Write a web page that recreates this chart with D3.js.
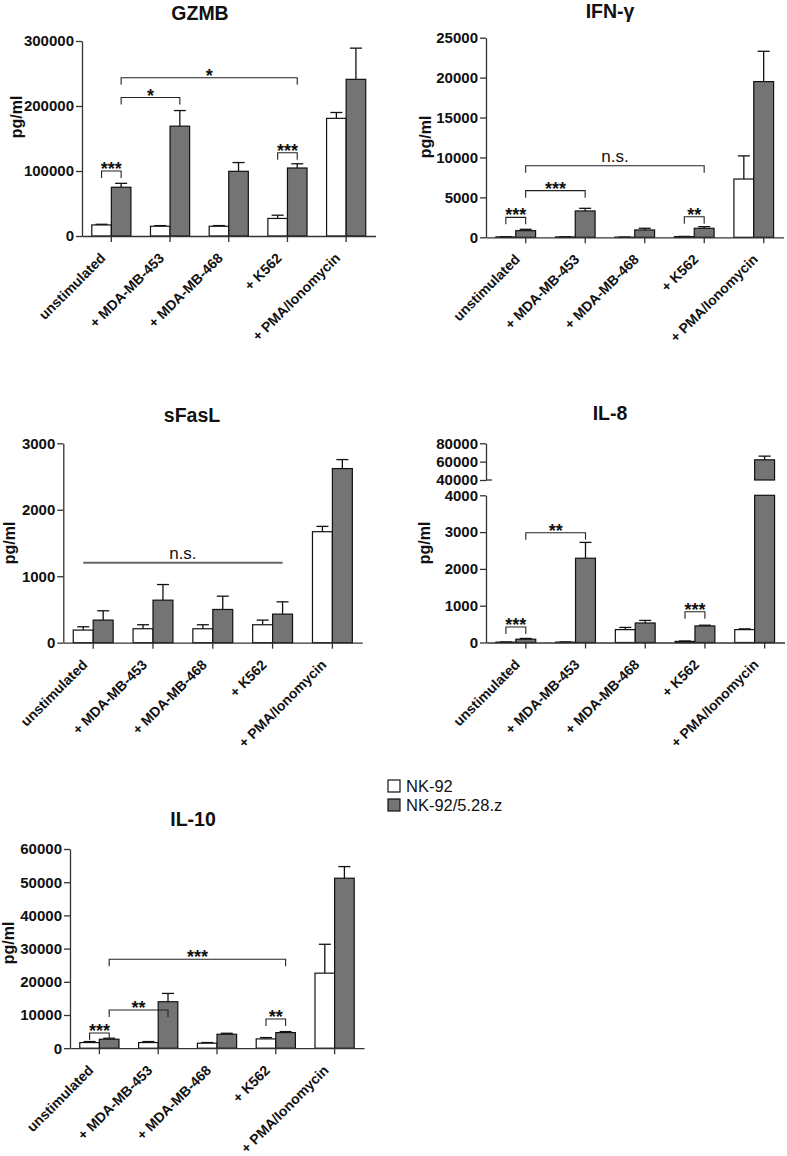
<!DOCTYPE html>
<html>
<head>
<meta charset="utf-8">
<script src="https://cdn.jsdelivr.net/npm/d3@7"></script>
<style>
  body { margin: 0; background: #fff; }
  svg text { font-family: Arial, "Liberation Sans", sans-serif; fill: #111; }
</style>
</head>
<body>
<svg id="fig" width="787" height="1156"></svg>
<script>
// ////////////////////////////////////////////////////////////////////////////
// DATA
// ////////////////////////////////////////////////////////////////////////////
const categories = ['unstimulated', '+ MDA-MB-453', '+ MDA-MB-468', '+ K562', '+ PMA/Ionomycin'];
const series = ['NK-92', 'NK-92/5.28.z'];

// GZMB (pg/ml)
const gzmbNK = [17000, 15000, 15000, 27000, 181000];
const gzmbNKErr = [1000, 1000, 1000, 5000, 9000];
const gzmbCAR = [75000, 169000, 99500, 104600, 241000];
const gzmbCARErr = [6000, 24000, 13500, 6500, 48000];
const gzmbTicks = [0, 100000, 200000, 300000];

// IFN-gamma
const ifnNK = [50, 50, 20, 80, 7300];
const ifnNKErr = [30, 20, 10, 30, 2900];
const ifnCAR = [830, 3300, 920, 1130, 19500];
const ifnCARErr = [170, 330, 210, 200, 3800];
const ifnTicks = [0, 5000, 10000, 15000, 20000, 25000];

// sFasL
const fasNK = [190, 210, 210, 270, 1670];
const fasNKErr = [50, 60, 60, 70, 80];
const fasCAR = [340, 640, 500, 430, 2620];
const fasCARErr = [140, 235, 200, 185, 135];
const fasTicks = [0, 1000, 2000, 3000];

// IL-8 (broken axis)
const il8NK = [10, 10, 350, 30, 350];
const il8NKErr = [5, 5, 60, 10, 20];
const il8CAR = [90, 2290, 530, 450, 62000];
const il8CARErr = [20, 430, 70, 20, 4000];
const il8TicksLow = [0, 1000, 2000, 3000, 4000];
const il8TicksHigh = [40000, 60000, 80000];

// IL-10
const il10NK = [1700, 1700, 1500, 2800, 22600];
const il10NKErr = [300, 300, 200, 400, 8700];
const il10CAR = [2700, 14000, 4200, 4700, 51200];
const il10CARErr = [300, 2500, 300, 300, 3500];
const il10Ticks = [0, 10000, 20000, 30000, 40000, 50000, 60000];

// significance brackets: [group, series] -> [group, series], level in pg/ml
const gzmbSig = [
  { from: [0, 0], to: [0, 1], level: 100000, label: '***' },
  { from: [0, 1], to: [1, 1], level: 213000, label: '*' },
  { from: [0, 1], to: [3, 1], level: 243500, label: '*' },
  { from: [3, 0], to: [3, 1], level: 128000, label: '***' },
];
const ifnSig = [
  { from: [0, 0], to: [0, 1], level: 2500, label: '***' },
  { from: [0, 1], to: [1, 1], level: 5840, label: '***' },
  { from: [0, 1], to: [3, 1], level: 8970, label: 'n.s.' },
  { from: [3, 0], to: [3, 1], level: 2580, label: '**' },
];
const fasSig = [
  { from: [0, 0], to: [3, 1], level: 1203, label: 'n.s.', flat: true },
];
const il8Sig = [
  { from: [0, 0], to: [0, 1], level: 420, label: '***' },
  { from: [0, 1], to: [1, 1], level: 2984, label: '**' },
  { from: [3, 0], to: [3, 1], level: 837, label: '***' },
];
const il10Sig = [
  { from: [0, 0], to: [0, 1], level: 4600, label: '***' },
  { from: [0, 1], to: [1, 1], level: 11500, label: '**' },
  { from: [0, 1], to: [3, 1], level: 26800, label: '***' },
  { from: [3, 0], to: [3, 1], level: 8800, label: '**' },
];

// ////////////////////////////////////////////////////////////////////////////
// LAYOUT
// ////////////////////////////////////////////////////////////////////////////
const fills = ['#ffffff', '#747474'];

const panels = [
  { title: 'GZMB', nk: gzmbNK, nkErr: gzmbNKErr, car: gzmbCAR, carErr: gzmbCARErr, sig: gzmbSig,
    left: 82, step: 58.7, shift: 0, titleX: 200, titleY: 20, labelX: 16, labelY: 117,
    segs: [{ domain: [0, 300000], range: [236, 41], ticks: gzmbTicks }] },
  { title: 'IFN-γ', nk: ifnNK, nkErr: ifnNKErr, car: ifnCAR, carErr: ifnCARErr, sig: ifnSig,
    left: 486, step: 59.5, shift: 10, titleX: 610, titleY: 18, labelX: 425, labelY: 137,
    segs: [{ domain: [0, 25000], range: [237.3, 37.7], ticks: ifnTicks }] },
  { title: 'sFasL', nk: fasNK, nkErr: fasNKErr, car: fasCAR, carErr: fasCARErr, sig: fasSig,
    left: 63.3, step: 59.8, shift: 0, titleX: 192, titleY: 422, labelX: 9, labelY: 543,
    segs: [{ domain: [0, 3000], range: [642.7, 443.3], ticks: fasTicks }] },
  { title: 'IL-8', nk: il8NK, nkErr: il8NKErr, car: il8CAR, carErr: il8CARErr, sig: il8Sig,
    left: 486, step: 59.7, shift: 10, titleX: 610, titleY: 420, labelX: 424, labelY: 543,
    segs: [
      { domain: [0, 4000], range: [642.5, 495.3], ticks: il8TicksLow },
      { domain: [40000, 80000], range: [480, 443.3], ticks: il8TicksHigh, cap: true },
    ] },
  { title: 'IL-10', nk: il10NK, nkErr: il10NKErr, car: il10CAR, carErr: il10CARErr, sig: il10Sig,
    left: 70, step: 58.8, shift: 0, titleX: 193, titleY: 826, labelX: 8, labelY: 943,
    segs: [{ domain: [0, 60000], range: [1048.2, 849], ticks: il10Ticks }] },
];

const svg = d3.select('#fig');

function drawPanel(p) {
  const g = svg.append('g');
  const x = d3.scaleBand()
    .domain(categories)
    .range([p.left, p.left + p.step * categories.length])
    .paddingInner(1 / 3)
    .paddingOuter(1 / 6);
  const xs = d3.scaleBand().domain(series).range([0, x.bandwidth()]);
  const segs = p.segs.map(s => ({ ...s, y: d3.scaleLinear().domain(s.domain).range(s.range) }));
  const base = segs[0].y(0);

  // find the scale a value lives on
  const yOf = v => {
    const s = segs.find(sg => v <= sg.domain[1]) || segs[segs.length - 1];
    return s.y(Math.max(v, s.domain[0]));
  };
  const barX = (gi, si) => x(categories[gi]) + xs(series[si]);
  const barC = (gi, si) => barX(gi, si) + xs.bandwidth() / 2;

  // rows of bar data
  const rows = [];
  categories.forEach((c, i) => {
    rows.push({ gi: i, si: 0, v: p.nk[i], e: p.nkErr[i] });
    rows.push({ gi: i, si: 1, v: p.car[i], e: p.carErr[i] });
  });

  // error bars (only upward)
  const eb = g.append('g').attr('stroke', '#111').attr('stroke-width', 1.3);
  rows.forEach(d => {
    const cx = barC(d.gi, d.si);
    eb.append('line').attr('x1', cx).attr('x2', cx).attr('y1', yOf(d.v)).attr('y2', yOf(d.v + d.e));
    eb.append('line').attr('x1', cx - 6).attr('x2', cx + 6).attr('y1', yOf(d.v + d.e)).attr('y2', yOf(d.v + d.e));
  });

  // bars, split across axis segments
  rows.forEach(d => {
    segs.forEach(s => {
      if (d.v <= s.domain[0] && s !== segs[0]) return;
      const top = s.y(Math.min(d.v, s.domain[1]));
      const bot = s.y(s.domain[0]);
      g.append('rect')
        .attr('x', barX(d.gi, d.si))
        .attr('y', top)
        .attr('width', xs.bandwidth())
        .attr('height', Math.max(0, bot - top))
        .attr('fill', fills[d.si])
        .attr('stroke', '#111')
        .attr('stroke-width', 1.2);
    });
  });

  // y axis (one per segment)
  segs.forEach(s => {
    const ax = g.append('g')
      .attr('transform', `translate(${p.left},0)`)
      .call(d3.axisLeft(s.y).tickValues(s.ticks).tickFormat(d3.format('d')).tickSize(6).tickSizeOuter(0).tickPadding(2));
    ax.select('.domain').attr('stroke', '#333').attr('stroke-width', 1.3);
    ax.selectAll('.tick line').attr('stroke', '#333').attr('stroke-width', 1.3);
    ax.selectAll('.tick text').attr('font-size', 15).attr('font-weight', 'bold').attr('fill', '#111');
    if (s.cap) {
      g.append('line').attr('x1', p.left).attr('x2', p.left + 6)
        .attr('y1', s.y(s.domain[0])).attr('y2', s.y(s.domain[0]))
        .attr('stroke', '#333').attr('stroke-width', 1.3);
    }
  });

  // x axis
  const xa = g.append('g')
    .attr('transform', `translate(0,${base})`)
    .call(d3.axisBottom(x).tickSize(6).tickSizeOuter(0).tickFormat(''));
  xa.select('.domain').attr('stroke', '#333').attr('stroke-width', 1.3);
  xa.selectAll('.tick')
    .attr('transform', d => `translate(${x(d) + x.bandwidth() / 2 + p.shift},0)`);
  xa.selectAll('.tick line').attr('stroke', '#333').attr('stroke-width', 1.3);

  g.selectAll('text.cat')
    .data(categories)
    .join('text')
    .attr('class', 'cat')
    .attr('text-anchor', 'end')
    .attr('font-size', 14)
    .attr('font-weight', 'bold')
    .attr('transform', d => `translate(${x(d) + x.bandwidth() / 2 + p.shift - 5},${base + 23}) rotate(-45)`)
    .text(d => d);

  // titles
  g.append('text')
    .attr('x', p.titleX).attr('y', p.titleY)
    .attr('text-anchor', 'middle')
    .attr('font-size', 19.5).attr('font-weight', 'bold')
    .text(p.title);
  g.append('text')
    .attr('transform', `translate(${p.labelX + 6},${p.labelY}) rotate(-90)`)
    .attr('text-anchor', 'middle')
    .attr('font-size', 16).attr('font-weight', 'bold')
    .text('pg/ml');

  // significance brackets
  p.sig.forEach(s => {
    const x1 = barC(s.from[0], s.from[1]);
    const x2 = barC(s.to[0], s.to[1]);
    const yy = yOf(s.level);
    const stars = s.label !== 'n.s.';
    if (s.flat) {
      g.append('line').attr('x1', x1).attr('x2', x2).attr('y1', yy).attr('y2', yy)
        .attr('stroke', '#666').attr('stroke-width', 2.2);
    } else {
      g.append('path')
        .attr('d', `M${x1},${yy + 7}V${yy}H${x2}V${yy + 7}`)
        .attr('fill', 'none').attr('stroke', '#222').attr('stroke-width', 1.1);
    }
    g.append('text')
      .attr('x', (x1 + x2) / 2)
      .attr('y', stars ? yy + 4 : yy - 4)
      .attr('text-anchor', 'middle')
      .attr('font-size', stars ? 18 : 17)
      .attr('font-weight', stars ? 'bold' : 'normal')
      .text(s.label);
  });
}

panels.forEach(drawPanel);

// LEGEND
const legend = svg.append('g').attr('transform', 'translate(388,780)');
series.forEach((s, i) => {
  legend.append('rect')
    .attr('x', 0).attr('y', i * 19)
    .attr('width', 12).attr('height', 12)
    .attr('fill', fills[i]).attr('stroke', '#111').attr('stroke-width', 1.2);
  legend.append('text')
    .attr('x', 18).attr('y', i * 19 + 12)
    .attr('font-size', 16.5)
    .text(s);
});
</script>
</body>
</html>
